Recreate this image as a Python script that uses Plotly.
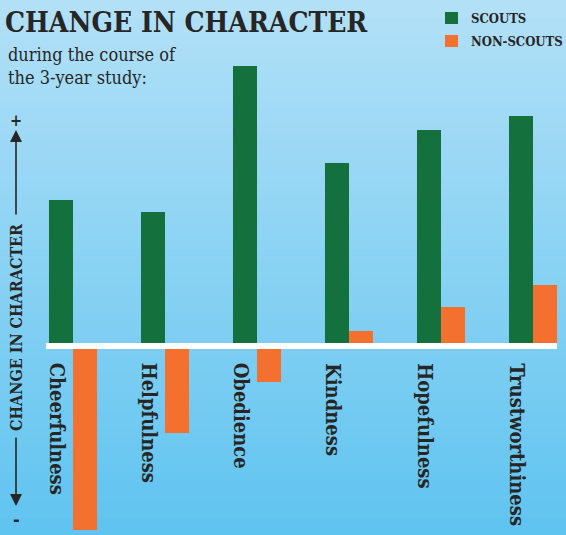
import plotly.graph_objects as go

categories = ["Cheerfulness", "Helpfulness", "Obedience", "Kindness", "Hopefulness", "Trustworthiness"]
scouts = [146, 134, 280, 183, 216, 230]
non_scouts = [-184, -87, -36, 15, 39, 61]
series_names = ["SCOUTS", "NON-SCOUTS"]

GREEN = "#14703d"
ORANGE = "#f4702f"
TEXT = "#262626"
SERIF = "DejaVu Serif Condensed, DejaVu Serif, serif"

W, H = 566, 535
ML, MR, MT, MB = 45, 6, 62, 2
PW, PH = W - ML - MR, H - MT - MB

def px(x):
    return (x - ML) / PW

def py(y):
    return (H - MB - y) / PH

fig = go.Figure()
fig.add_trace(go.Bar(x=categories, y=scouts, name=series_names[0], marker_color=GREEN,
                     marker_line_width=0))
fig.add_trace(go.Bar(x=categories, y=non_scouts, name=series_names[1], marker_color=ORANGE,
                     marker_line_width=0))

# background gradient bands
shapes = []
top = (178, 224, 247)
bot = (96, 196, 240)
N = 60
for i in range(N):
    t = i / (N - 1)
    c = tuple(round(top[k] + (bot[k] - top[k]) * t) for k in range(3))
    y0 = H * i / N
    y1 = H * (i + 1) / N + 1
    shapes.append(dict(type="rect", xref="paper", yref="paper", layer="below",
                       x0=px(0), x1=px(W), y0=py(y1), y1=py(y0),
                       fillcolor="rgb(%d,%d,%d)" % c, line_width=0))
# white baseline
shapes.append(dict(type="line", xref="paper", yref="y", x0=px(46), x1=px(557), y0=0, y1=0,
                   line=dict(color="white", width=6), layer="above"))

annotations = []
# legend (custom)
for name, color, yc in zip(series_names, [GREEN, ORANGE], [18, 41]):
    shapes.append(dict(type="rect", xref="paper", yref="paper",
                       x0=px(445), x1=px(458), y0=py(yc + 6), y1=py(yc - 6),
                       fillcolor=color, line_width=0))
    annotations.append(dict(x=px(469), y=py(yc), xref="paper", yref="paper", text=name,
                            showarrow=False, xanchor="left", yanchor="middle",
                            font=dict(family=SERIF, size=13, color=TEXT, weight="bold")))

for i, c in enumerate(categories):
    annotations.append(dict(x=i - 0.17, y=-15, xref="x", yref="y", text=c, textangle=90,
                            showarrow=False, xanchor="center", yanchor="top",
                            font=dict(family=SERIF, size=20, color=TEXT, weight="bold")))

annotations.append(dict(x=px(3), y=py(4), xref="paper", yref="paper", text="CHANGE IN CHARACTER",
                        showarrow=False, xanchor="left", yanchor="top",
                        font=dict(family=SERIF, size=28, color=TEXT, weight="bold")))
annotations.append(dict(x=px(6), y=py(42), xref="paper", yref="paper",
                        text="during the course of<br>the 3-year study:",
                        showarrow=False, xanchor="left", yanchor="top", align="left",
                        font=dict(family=SERIF, size=18, color=TEXT)))
# y label
annotations.append(dict(x=px(16), y=py(327), xref="paper", yref="paper", text="CHANGE IN CHARACTER",
                        textangle=-90, showarrow=False, xanchor="center", yanchor="middle",
                        font=dict(family=SERIF, size=16, color=TEXT, weight="bold")))
annotations.append(dict(x=px(16), y=py(121), xref="paper", yref="paper", text="+",
                        showarrow=False, xanchor="center", yanchor="middle",
                        font=dict(family=SERIF, size=16, color=TEXT, weight="bold")))
annotations.append(dict(x=px(16), y=py(519), xref="paper", yref="paper", text="-",
                        showarrow=False, xanchor="center", yanchor="middle",
                        font=dict(family=SERIF, size=18, color=TEXT, weight="bold")))
annotations.append(dict(x=px(16), y=py(130), xref="paper", yref="paper", text="",
                        showarrow=True, ax=0, ay=86,
                        arrowhead=2, arrowsize=1.5, arrowwidth=1.6, arrowcolor=TEXT))
annotations.append(dict(x=px(16), y=py(506), xref="paper", yref="paper", text="",
                        showarrow=True, ax=0, ay=-70,
                        arrowhead=2, arrowsize=1.5, arrowwidth=1.6, arrowcolor=TEXT))

fig.update_layout(
    width=W, height=H,
    margin=dict(l=ML, r=MR, t=MT, b=MB, autoexpand=False),
    paper_bgcolor="rgb(140,210,243)",
    plot_bgcolor="rgba(0,0,0,0)",
    barmode="group", bargap=0.478, bargroupgap=0,
    xaxis=dict(range=[(ML - 73) / 92, (W - MR - 73) / 92], showticklabels=False,
               showgrid=False, zeroline=False, showline=False, fixedrange=True),
    yaxis=dict(range=[-(H - MB - 346), 346 - MT], showticklabels=False,
               showgrid=False, zeroline=False, showline=False, fixedrange=True),
    showlegend=False,
    shapes=shapes,
    annotations=annotations,
)

fig.write_html("out.html", config={"displayModeBar": False},
               post_script="document.body.style.margin='0';")
